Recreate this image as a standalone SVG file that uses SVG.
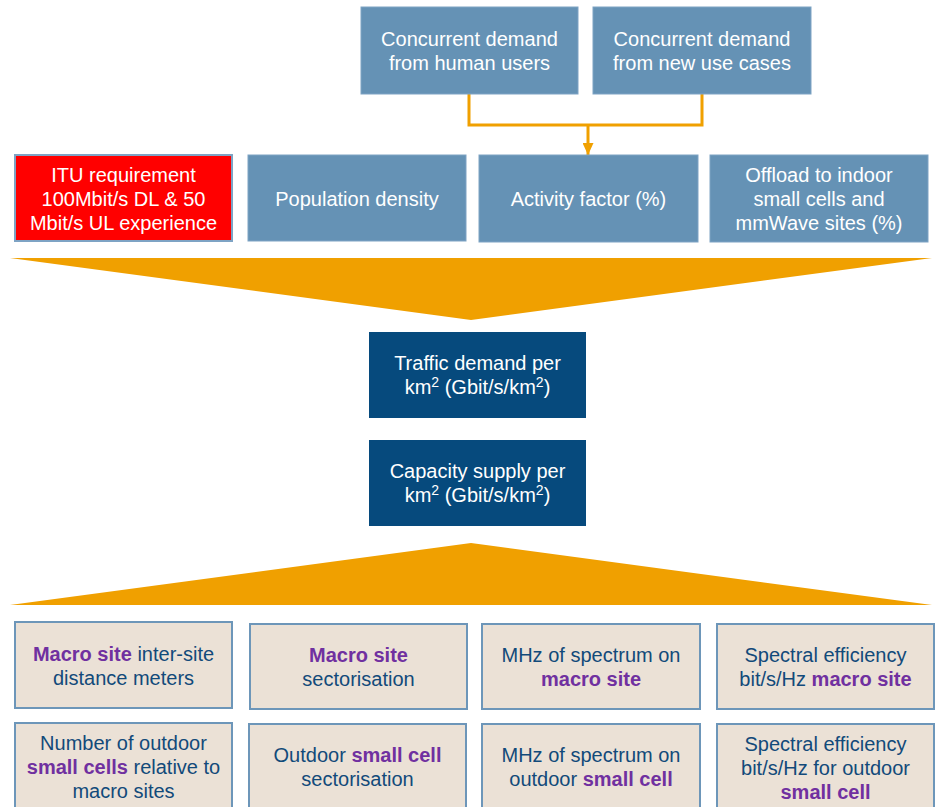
<svg xmlns="http://www.w3.org/2000/svg" width="938" height="807" viewBox="0 0 938 807">
<style>
text{font-family:"Liberation Sans",Arial,sans-serif;font-size:20px;text-anchor:middle}
.blue rect{fill:#6592B5;stroke:#7EA3C4;stroke-width:1}
.blue text{fill:#ffffff}
.dark rect{fill:#064A7D}
.dark text{fill:#ffffff}
.beige rect{fill:#EBE1D6;stroke:#6D96B9;stroke-width:2}
.beige text{fill:#124A7A}
.beige .p{fill:#7030A0;font-weight:bold}
.conn{fill:none;stroke:#F0A000;stroke-width:3}
.sup{font-size:14px}
</style>
<defs>
<marker id="ah" markerWidth="13" markerHeight="11" refX="12" refY="5.5" orient="auto" markerUnits="userSpaceOnUse">
<path d="M0,0 L12,5.5 L0,11 z" fill="#F0A000"/>
</marker>
</defs>

<g id="connectors">
<polyline class="conn" points="469,94 469,125 702,125 702,94"/>
<line class="conn" x1="588" y1="125" x2="588" y2="155" marker-end="url(#ah)"/>
</g>

<g id="n_human" class="blue">
<rect x="361" y="7" width="217" height="87"/>
<text x="469.5" y="46">Concurrent demand</text>
<text x="469.5" y="70">from human users</text>
</g>
<g id="n_newuse" class="blue">
<rect x="593" y="7" width="218" height="87"/>
<text x="702" y="46">Concurrent demand</text>
<text x="702" y="70">from new use cases</text>
</g>

<g id="n_itu">
<rect x="15" y="155" width="217" height="86" fill="#FF0000" stroke="#7EA3C4" stroke-width="2"/>
<text x="123.5" y="182" fill="#ffffff">ITU requirement</text>
<text x="123.5" y="206" fill="#ffffff">100Mbit/s DL &amp; 50</text>
<text x="123.5" y="230" fill="#ffffff">Mbit/s UL experience</text>
</g>
<g id="n_pop" class="blue">
<rect x="248" y="155" width="218" height="86"/>
<text x="357" y="206">Population density</text>
</g>
<g id="n_activity" class="blue">
<rect x="479" y="155" width="219" height="87"/>
<text x="588.5" y="206">Activity factor (%)</text>
</g>
<g id="n_offload" class="blue">
<rect x="710" y="155" width="218" height="87"/>
<text x="819" y="182">Offload to indoor</text>
<text x="819" y="206">small cells and</text>
<text x="819" y="230">mmWave sites (%)</text>
</g>

<g id="funnel_top">
<polygon points="10,258 932,258 471,320" fill="#F0A000"/>
</g>

<g id="n_traffic" class="dark">
<rect x="369" y="332" width="217" height="86"/>
<text x="477.5" y="370">Traffic demand per</text>
<text x="477.5" y="394">km<tspan class="sup" dy="-7">2</tspan><tspan dy="7"> (Gbit/s/km</tspan><tspan class="sup" dy="-7">2</tspan><tspan dy="7">)</tspan></text>
</g>
<g id="n_capacity" class="dark">
<rect x="369" y="440" width="217" height="86"/>
<text x="477.5" y="478">Capacity supply per</text>
<text x="477.5" y="502">km<tspan class="sup" dy="-7">2</tspan><tspan dy="7"> (Gbit/s/km</tspan><tspan class="sup" dy="-7">2</tspan><tspan dy="7">)</tspan></text>
</g>

<g id="funnel_bottom">
<polygon points="10,605 932,605 471,543" fill="#F0A000"/>
</g>

<g id="n_macro_isd" class="beige">
<rect x="15" y="622" width="217" height="86"/>
<text x="123.5" y="661"><tspan class="p">Macro site</tspan> inter-site</text>
<text x="123.5" y="685">distance meters</text>
</g>
<g id="n_macro_sect" class="beige">
<rect x="250" y="624" width="217" height="85"/>
<text x="358.5" y="662" class="p">Macro site</text>
<text x="358.5" y="686">sectorisation</text>
</g>
<g id="n_macro_mhz" class="beige">
<rect x="482" y="624" width="218" height="85"/>
<text x="591" y="662">MHz of spectrum on</text>
<text x="591" y="686" class="p">macro site</text>
</g>
<g id="n_macro_se" class="beige">
<rect x="717" y="624" width="217" height="85"/>
<text x="825.5" y="662">Spectral efficiency</text>
<text x="825.5" y="686">bit/s/Hz <tspan class="p">macro site</tspan></text>
</g>

<g id="n_sc_number" class="beige">
<rect x="15" y="723" width="217" height="90"/>
<text x="123.5" y="750">Number of outdoor</text>
<text x="123.5" y="774"><tspan class="p">small cells</tspan> relative to</text>
<text x="123.5" y="798">macro sites</text>
</g>
<g id="n_sc_sect" class="beige">
<rect x="249" y="724" width="217" height="90"/>
<text x="357.5" y="762">Outdoor <tspan class="p">small cell</tspan></text>
<text x="357.5" y="786">sectorisation</text>
</g>
<g id="n_sc_mhz" class="beige">
<rect x="482" y="724" width="218" height="90"/>
<text x="591" y="762">MHz of spectrum on</text>
<text x="591" y="786">outdoor <tspan class="p">small cell</tspan></text>
</g>
<g id="n_sc_se" class="beige">
<rect x="717" y="724" width="217" height="90"/>
<text x="825.5" y="751">Spectral efficiency</text>
<text x="825.5" y="775">bit/s/Hz for outdoor</text>
<text x="825.5" y="799" class="p">small cell</text>
</g>
</svg>
